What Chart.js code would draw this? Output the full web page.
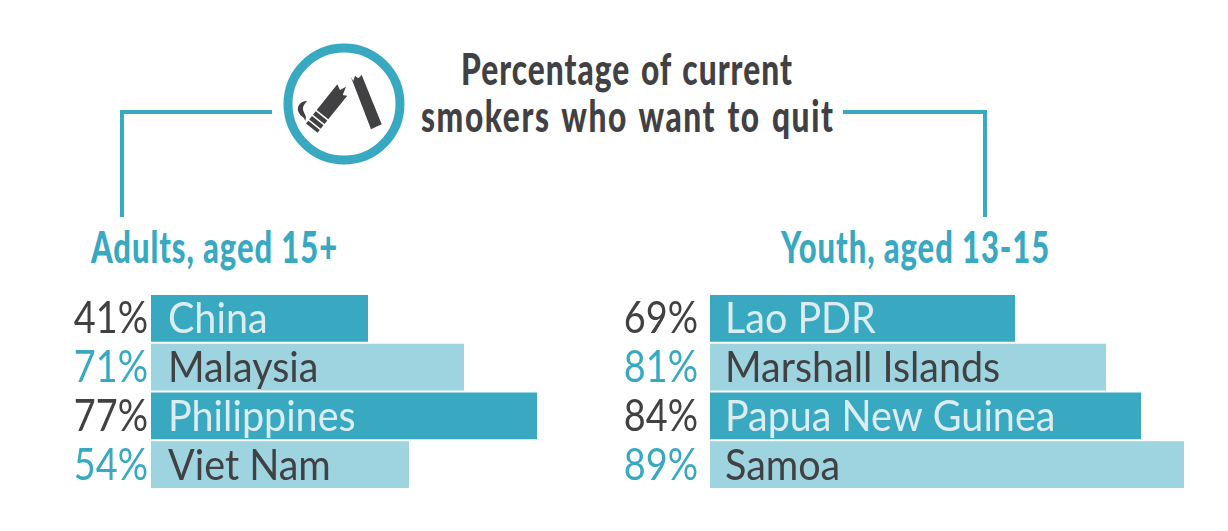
<!DOCTYPE html>
<html>
<head>
<meta charset="utf-8">
<script src="https://cdn.jsdelivr.net/npm/chart.js@4"></script>
<style>
	html, body { margin: 0; padding: 0; background: #fff; }
	body { position: relative; width: 1228px; height: 531px; overflow: hidden; }
	.box { position: absolute; top: 294px; height: 195px; width: 600px; }
	#left-box { left: 51px; }
	#right-box { left: 610px; }
	.txt { position: absolute; white-space: nowrap; transform-origin: left top; font-family: "Lato"; font-weight: 900; line-height: 50px; }
	#title1, #title2 { color: #414042; font-size: 44px; transform: scaleX(.72); letter-spacing: 2.2px; word-spacing: 3px; }
	#title1 { left: 461px; top: 43px; letter-spacing: 1.4px; }
	#title2 { left: 421px; top: 90px; }
	#sub1, #sub2 { color: #38a9c1; font-size: 43px; transform: scaleX(.72); letter-spacing: 1.3px; }
	#sub1 { left: 91px; top: 222px; }
	#sub2 { left: 781px; top: 222px; }
	svg { position: absolute; left: 0; top: 0; }
</style>
</head>
<body>
<svg width="1228" height="531">
	<path d="M122 217V112H272M843 112H985V217" fill="none" stroke="#38a9c1" stroke-width="4"/>
	<circle cx="344" cy="104" r="56" fill="none" stroke="#38a9c1" stroke-width="9"/>
	<g fill="#414042">
		<path d="M337.3 84.3L340 90L346 86.7L342.7 95L347.3 95.7L328.3 119.3L316.7 110Z"/>
		<path d="M315.8 111.2L327.3 120.5L324.5 124L313 114.7ZM312 116L323.5 125.3L320.7 128.8L309.2 119.5ZM308.3 120.7L319.8 130L317.5 132.8L306 123.5Z"/>
		<path d="M350.7 76.7L353.3 81L355 75.7L358.3 78.3L361.7 75L381.7 124.3L371 129.3L354 85Z"/>
		<path d="M307 101C299 101 296 108 299 113C301 117 305 117 305 121C308 116 303 113 303 109C303 105 305 104 307 101Z"/>
	</g>
</svg>
<div class="txt" id="title1">Percentage of current</div>
<div class="txt" id="title2">smokers who want to quit</div>
<div class="txt" id="sub1">Adults, aged 15+</div>
<div class="txt" id="sub2">Youth, aged 13-15</div>
<div class="box" id="left-box"><canvas id="g-adultos"></canvas></div>
<div class="box" id="right-box"><canvas id="g-jovenes"></canvas></div>
<script>
var adultCountries = ["China", "Malaysia", "Philippines", "Viet Nam"];
var adultLabels = ["41%", "71%", "77%", "54%"];
// bar lengths as drawn in the picture, they do not follow the printed % exactly
var adultBars = [43.4, 62.6, 77.2, 51.6];

var youthCountries = ["Lao PDR", "Marshall Islands", "Papua New Guinea", "Samoa"];
var youthLabels = ["69%", "81%", "84%", "89%"];
var youthBars = [61, 79.2, 86.2, 94.8];

var teal = "#38a9c1";
var lightTeal = "#9dd4e0";
var dark = "#414042";
var pale = "#dcedf1";

// country name inside each bar, percentage to the left of it
var namesPlugin = {
	id: "names",
	afterDatasetsDraw: function(chart) {
		var ctx = chart.ctx;
		var ds = chart.data.datasets[0];
		var x0 = chart.scales.x.getPixelForValue(0);
		ds.names.forEach(function(n, i) {
			var y = chart.scales.y.getPixelForValue(i) + 15;
			ctx.save();
			ctx.textBaseline = "alphabetic";
			ctx.font = "400 42px Lato";
			ctx.fillStyle = i % 2 == 0 ? pale : dark;
			ctx.translate(x0 + ds.nameGap, y);
			ctx.scale(0.94, 1);
			ctx.fillText(n, 0, 0);
			ctx.restore();

			ctx.save();
			ctx.textBaseline = "alphabetic";
			ctx.textAlign = "right";
			ctx.font = "400 44px Lato";
			ctx.fillStyle = i % 2 == 0 ? dark : teal;
			ctx.translate(x0 - ds.labelGap, y);
			ctx.scale(0.86, 1);
			ctx.fillText(chart.data.labels[i], 0, 0);
			ctx.restore();
		});
	}
};

function makeChart(id, names, labels, bars, labelGap, nameGap) {
	return new Chart(document.getElementById(id), {
		type: "bar",
		data: {
			labels: labels,
			datasets: [{
				data: bars,
				names: names,
				labelGap: labelGap,
				nameGap: nameGap,
				backgroundColor: [teal, lightTeal, teal, lightTeal],
				barPercentage: 0.96,
				categoryPercentage: 1
			}]
		},
		options: {
			indexAxis: "y",
			responsive: false,
			animation: false,
			layout: { padding: 0 },
			plugins: { legend: { display: false }, tooltip: { enabled: false } },
			scales: {
				x: { display: false, min: 0, max: 100 },
				y: {
					afterFit: function(s) { s.width = 100; s.paddingTop = 0; s.paddingBottom = 0; },
					border: { display: false },
					grid: { display: false, drawTicks: false },
					ticks: { display: false }
				}
			}
		},
		plugins: [namesPlugin]
	});
}

["g-adultos", "g-jovenes"].forEach(function(id) {
	var c = document.getElementById(id);
	c.width = 600;
	c.height = 195;
});
makeChart("g-adultos", adultCountries, adultLabels, adultBars, 3, 17);
makeChart("g-jovenes", youthCountries, youthLabels, youthBars, 12, 15);
</script>
</body>
</html>
